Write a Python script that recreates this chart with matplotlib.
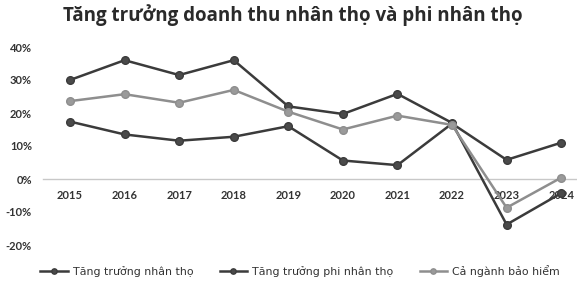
import matplotlib
matplotlib.use('Agg')
import matplotlib.pyplot as plt

# ---- data (%) ----
years = [2015, 2016, 2017, 2018, 2019, 2020, 2021, 2022, 2023, 2024]
life = [30.0, 36.0, 31.5, 36.0, 22.0, 19.7, 25.8, 17.0, -13.8, -4.3]
non_life = [17.4, 13.5, 11.6, 12.8, 16.0, 5.6, 4.2, 16.8, 5.8, 11.0]
total = [23.6, 25.7, 23.1, 27.0, 20.4, 15.0, 19.2, 16.4, -8.7, 0.4]
y_ticks = [-20, -10, 0, 10, 20, 30, 40]

TITLE = 'Tăng trưởng doanh thu nhân thọ và phi nhân thọ'
LABELS = ['Tăng trưởng nhân thọ', 'Tăng trưởng phi nhân thọ', 'Cả ngành bảo hiểm']

DARK = '#3b3b3b'
GRAY = '#8e8e8e'

fig = plt.figure(figsize=(5.77, 2.81), dpi=100)
ax = fig.add_axes([43 / 577, 36 / 281, 534 / 577, 198 / 281])

series = [(life, DARK, '#4a4a4a'), (non_life, DARK, '#4a4a4a'), (total, GRAY, '#9a9a9a')]
for (vals, c, fc), lab in zip(series, LABELS):
    ax.plot(years, vals, color=c, lw=1.8, marker='o', ms=5.5,
            markerfacecolor=fc, markeredgecolor=c, markeredgewidth=1.0, label=lab)

ax.set_xlim(2014.505, 2024.29)
ax.set_ylim(-20, 40)
ax.set_yticks(y_ticks)
ax.set_yticklabels([f'{v}%' for v in y_ticks])
ax.set_xticks(years)
ax.set_xticklabels([str(y) for y in years])

for s in ['top', 'right', 'left']:
    ax.spines[s].set_visible(False)
ax.spines['bottom'].set_position(('data', 0))
ax.spines['bottom'].set_color('#c8c8c8')
ax.spines['bottom'].set_linewidth(1.0)
ax.spines['bottom'].set_zorder(0)
ax.tick_params(axis='both', length=0, labelsize=8, colors='#333333')
ax.tick_params(axis='x', pad=8)
ax.tick_params(axis='y', pad=8)
for t in ax.get_xticklabels() + ax.get_yticklabels():
    t.set_fontfamily('Lato')
    t.set_fontweight('bold')

fig.text(0.507, 0.945, TITLE, ha='center', va='center', fontsize=13.5,
         fontweight='bold', family='Open Sans', color='#2a2a2a')

fig.legend(loc='center', bbox_to_anchor=(0.52, 0.035), ncol=3, frameon=False,
           prop={'family': ['Liberation Sans Narrow', 'DejaVu Sans'], 'size': 7.9},
           handlelength=2.5, columnspacing=2.4, handletextpad=0.45, markerscale=0.7,
           labelcolor='#333333')

fig.savefig('out.png', dpi=100)
